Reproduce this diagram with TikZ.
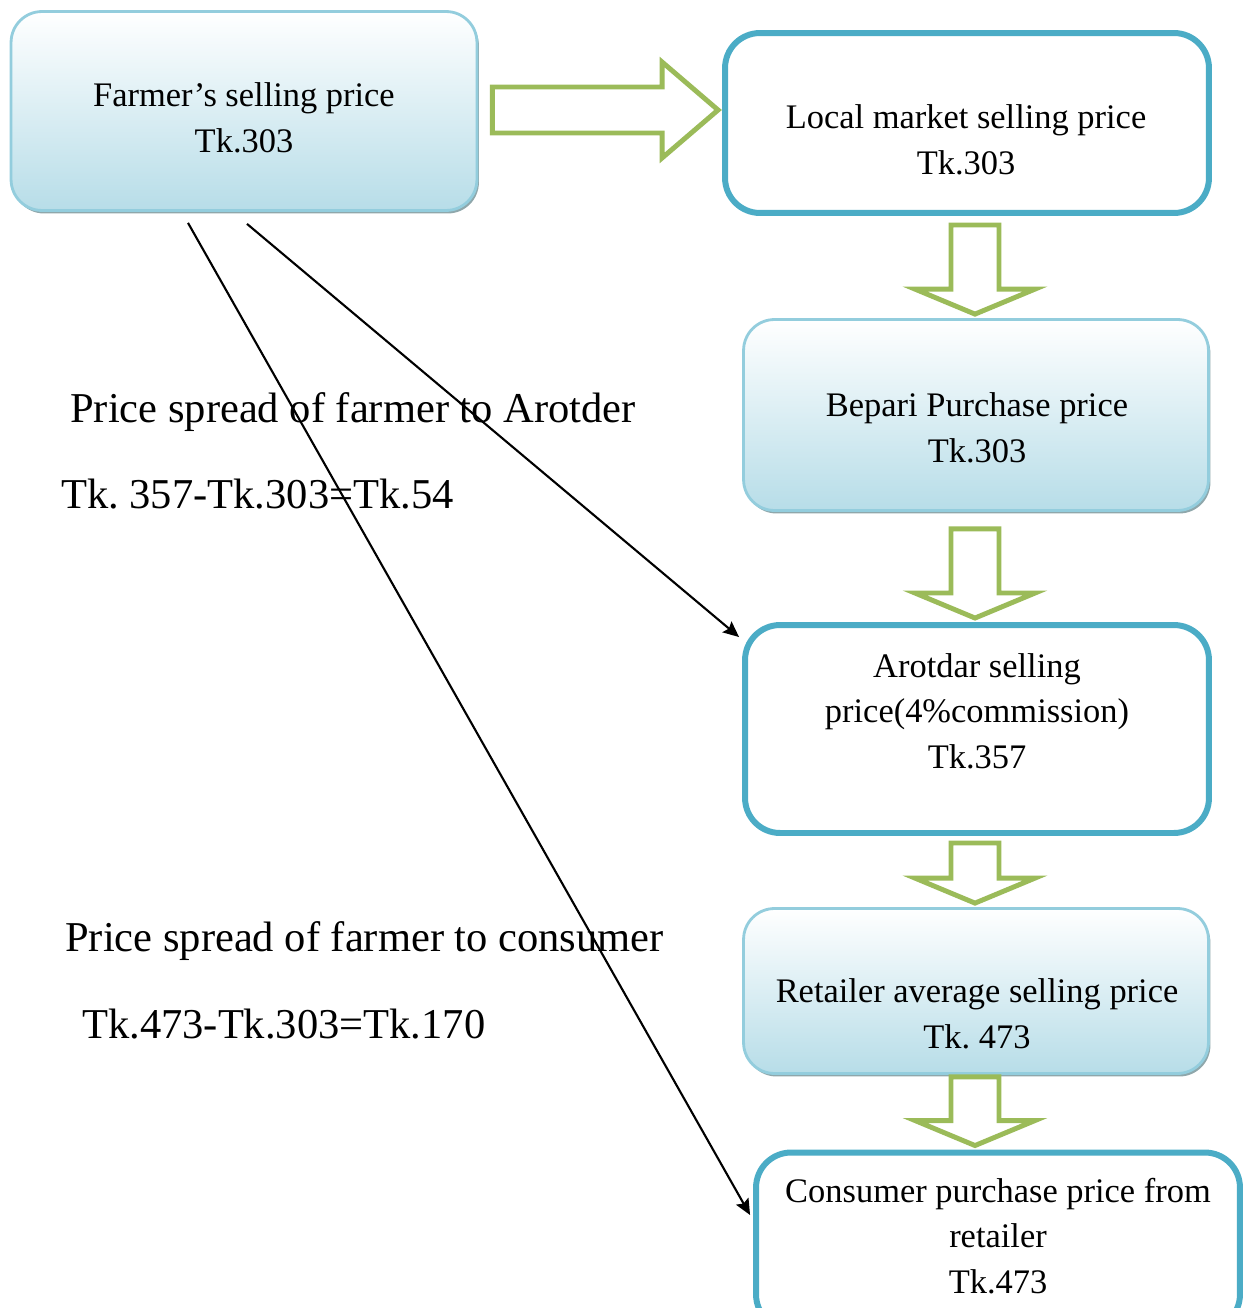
\documentclass[tikz,border=0pt]{standalone}
\usepackage{fontspec}
\setmainfont{Liberation Serif}
\frenchspacing
\usetikzlibrary{arrows.meta,calc,shadows}
\definecolor{boxblue}{HTML}{B7DDE8}
\definecolor{boxline}{HTML}{93CDDD}
\definecolor{boxshadow}{HTML}{8FA7AB}
\definecolor{tealline}{HTML}{4BACC6}
\definecolor{arrowgreen}{HTML}{9BBB59}

\newcommand{\greendown}[3]{%
  \draw[greenarrow] ($(col|-#1.south)+(-24,#3)$) -- ($(col|-#1.south)+(24,#3)$)
    -- ($(col|-#2.north)+(24,-29)$) -- ($(col|-#2.north)+(60,-29)$)
    -- ($(col|-#2.north)+(0,-4)$) -- ($(col|-#2.north)+(-60,-29)$)
    -- ($(col|-#2.north)+(-24,-29)$) -- cycle;}

\begin{document}
\begin{tikzpicture}[x=0.02cm, y=-0.02cm,
    gradbox/.style={rounded corners=0.62cm, draw=boxline, line width=1.6pt,
      top color=white, bottom color=boxblue, shading angle=0,
      drop shadow={shadow xshift=1.1pt, shadow yshift=-1.7pt, fill=boxshadow, opacity=1}},
    linebox/.style={rounded corners=0.7cm, draw=tealline, line width=3.4pt, fill=white},
    boxtext/.style={align=center, font=\fontsize{19.6}{26}\selectfont},
    bigtext/.style={anchor=west, font=\fontsize{24.2}{29}\selectfont},
    greenarrow/.style={draw=arrowgreen, line width=2.8pt, fill=white, line join=miter},
    blackarrow/.style={line width=1.2pt, -{Stealth[length=9pt, width=8pt, inset=1.5pt]}}]
  \useasboundingbox (0,0) rectangle (1250,1308);
  \clip (0,0) rectangle (1250,1308);
  \coordinate (col) at (975,0);

  \node[gradbox, minimum width=9.32cm, minimum height=3.98cm] (farmer) at (244,111) {};
  \node[linebox, minimum width=9.68cm, minimum height=3.6cm] (local) at (967,123) {};
  \node[gradbox, minimum width=9.3cm, minimum height=3.82cm] (bepari) at (976,415) {};
  \node[linebox, minimum width=9.28cm, minimum height=4.16cm] (arotdar) at (977,729) {};
  \node[gradbox, minimum width=9.3cm, minimum height=3.3cm] (retailer) at (976,991) {};
  \node[linebox, minimum width=9.68cm, minimum height=3.54cm] (consumer) at (998,1241) {};

  \node[boxtext] (farmertxt) at (244,118) {Farmer’s selling price\\Tk.303};
  \node[boxtext] (localtxt) at (966,140) {Local market selling price\\Tk.303};
  \node[boxtext] (beparitxt) at (977,428) {Bepari Purchase price\\Tk.303};
  \node[boxtext] (arotdartxt) at (977,711) {Arotdar selling\\price(4\%commission)\\Tk.357};
  \node[boxtext] (retailertxt) at (977,1014) {Retailer average selling price\\Tk. 473};
  \node[boxtext] (consumertxt) at (998,1236) {Consumer purchase price from\\retailer\\Tk.473};

  \node[bigtext] (spreadA) at (64,412) {Price spread of farmer to Arotder};
  \node[bigtext] (spreadAval) at (55,494) {Tk. 357-Tk.303=Tk.54};
  \node[bigtext] (spreadC) at (59,941) {Price spread of farmer to consumer};
  \node[bigtext] (spreadCval) at (76,1024) {Tk.473-Tk.303=Tk.170};

  \draw[greenarrow] ($(farmer.east)+(14,-24)$) -- ($(local.west|-farmer.east)+(-60,-24)$)
    -- ($(local.west|-farmer.east)+(-60,-49)$) -- ($(local.west|-farmer.east)+(-4,-1)$)
    -- ($(local.west|-farmer.east)+(-60,47)$) -- ($(local.west|-farmer.east)+(-60,22)$)
    -- ($(farmer.east)+(14,22)$) -- cycle;
  \greendown{local}{bepari}{9}
  \greendown{bepari}{arotdar}{17}
  \greendown{arotdar}{retailer}{7}
  \greendown{retailer}{consumer}{2}

  \draw[blackarrow] ($(farmer.south)+(3,12)$) -- ($(arotdar.north west)+(-3,15)$);
  \draw[blackarrow] ($(farmer.south)+(-56,11)$) -- ($(consumer.west)+(-3,-26)$);
\end{tikzpicture}
\end{document}
